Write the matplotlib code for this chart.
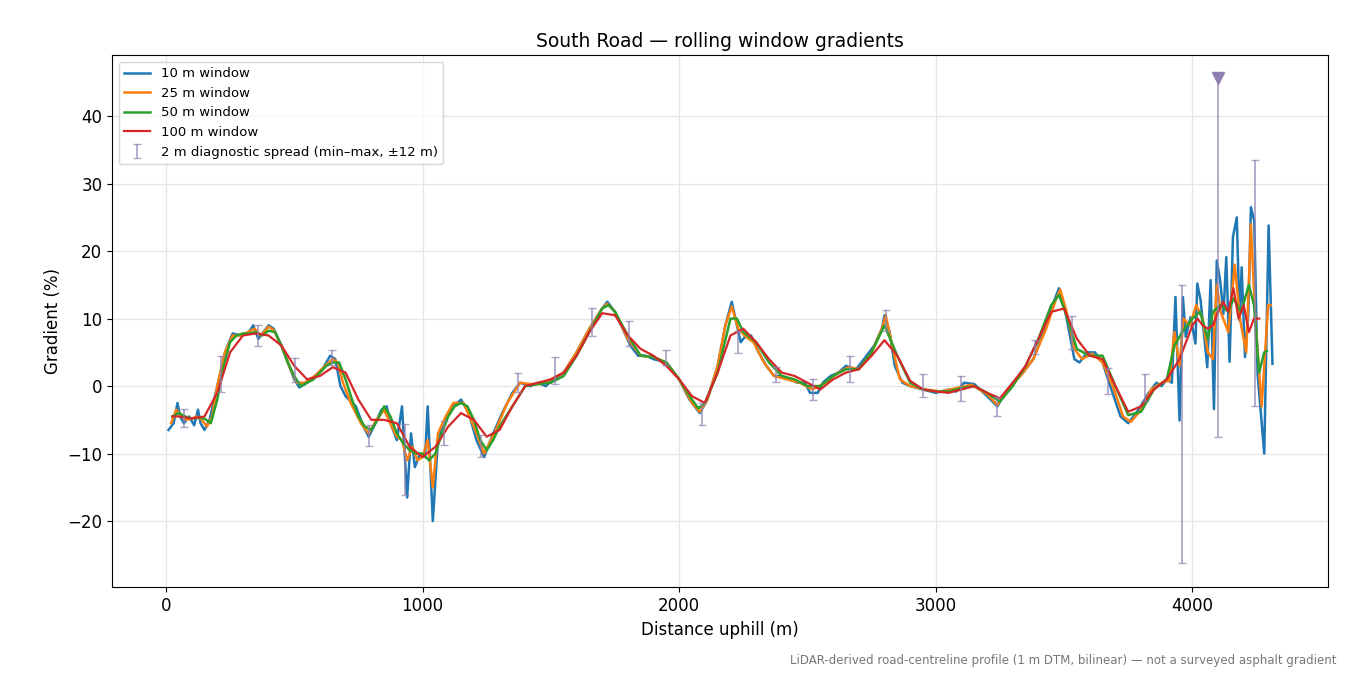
import matplotlib
matplotlib.use("Agg")
import matplotlib.pyplot as plt
import numpy as np

# 10 m window
d10 = [10,30,45,55,70,90,110,125,135,150,170,200,230,260,290,320,340,360,380,400,420,450,480,500,520,550,580,610,640,660,680,700,740,770,790,810,840,860,880,900,920,940,955,970,990,1010,1020,1040,1060,1090,1120,1150,1180,1210,1240,1270,1310,1350,1380,1420,1450,1480,1510,1550,1600,1650,1700,1720,1750,1780,1810,1840,1870,1900,1950,2000,2040,2080,2110,2150,2180,2205,2225,2240,2260,2280,2310,2340,2370,2400,2430,2460,2490,2510,2540,2560,2590,2620,2650,2690,2720,2760,2790,2800,2820,2840,2870,2900,2950,3000,3050,3080,3110,3150,3200,3240,3270,3300,3340,3380,3420,3460,3480,3500,3520,3540,3560,3590,3620,3650,3680,3720,3750,3790,3830,3860,3880,3900,3920,3934,3950,3963,3974,3993,4012,4019,4032,4058,4071,4084,4095,4108,4121,4132,4145,4158,4173,4184,4192,4205,4218,4228,4241,4254,4280,4297,4312]
v10 = [-6.5,-5.5,-2.5,-4.5,-5.5,-4.5,-5.8,-3.5,-5.5,-6.5,-5,0,5,7.8,7.5,7.8,9,7,8,9,8.5,6,3,1,-0.2,0.5,1.5,2.5,4.5,4,0,-1.5,-3,-6,-7.5,-6,-3.5,-3,-6,-8,-3,-16.5,-7,-12,-10,-10.5,-3,-20,-8,-5,-3,-2,-4,-8,-10.5,-7.5,-4,-1,0.5,0,0.5,0,1,2,5,8.5,11.5,12.5,11,8.5,6,4.5,4.5,4,3.5,1,-2,-4,-2,3,9,12.5,9,6.5,7.5,7.5,5,3,1.5,1.5,1,0.5,0.5,-1,-1,0.5,1.5,2,3,2.5,4,6,8.5,10.5,8,3,0.5,0,-0.5,-1,-0.5,-0.8,0.5,0.3,-1.5,-3,-1,0.5,2,4,8,12.5,14.5,12,8,4,3.5,5,5,3.5,0,-4.5,-5.5,-3.5,-1,0.5,0,1,0.5,13.2,-5.1,13.2,7.3,10.2,6.3,15.2,12.7,2.8,15.7,-3.4,18.6,15.7,10.7,19.1,3.6,22.1,25.0,9.7,17.6,4.3,10.7,26.5,24.5,1.8,-10,23.8,3.3]

# 25 m window
d25 = [20,40,60,80,100,120,140,160,180,200,230,260,290,320,345,370,400,420,450,480,510,540,580,620,650,670,690,720,760,790,820,850,880,900,920,940,960,980,1000,1020,1040,1060,1090,1120,1160,1200,1240,1280,1330,1380,1420,1460,1500,1550,1600,1650,1700,1720,1750,1800,1850,1900,1950,2000,2050,2080,2110,2150,2180,2205,2230,2260,2290,2330,2370,2420,2470,2520,2570,2620,2660,2700,2750,2790,2805,2830,2860,2900,2960,3020,3080,3140,3200,3240,3280,3330,3380,3430,3470,3485,3510,3540,3570,3610,3650,3690,3730,3760,3800,3840,3880,3910,3930,3950,3965,3990,4015,4040,4060,4080,4095,4110,4140,4165,4185,4210,4228,4245,4270,4295,4305]
v25 = [-5.5,-3.5,-4.5,-5,-4.8,-4.5,-5,-6,-4.5,0,5,7.5,7.5,8,8.5,7.5,8.8,8.3,6,3,0.5,0.5,1.5,3,4,3.5,0.5,-2.5,-5.5,-7,-5,-3.5,-6,-7.5,-8,-11,-9,-11,-10.5,-8,-15,-7,-4.5,-2.5,-2.5,-6,-10,-7,-2.5,0.5,0.3,0.3,1,2,5,8.5,11.5,12.2,11,7,4.5,4.3,3.5,1,-2.5,-3.8,-2,3,9,11.8,8.5,7.3,6.5,3.5,1.5,1,0.5,-0.5,0.5,2,2.8,2.5,5,8.5,10.5,6,1,0,-0.5,-0.8,-0.3,0.2,-1.2,-2.8,-0.5,1.5,4,8.5,13,14.3,11,5.5,4,4.8,3.5,0,-4.5,-5.3,-3.5,-0.5,0.5,0.8,8,3,10,9,12,10,5,4,15,11,8,18,10,5,24,10,-3,12,12]

# 50 m window
d50 = [25,50,75,100,125,150,175,200,225,250,275,300,325,350,375,400,425,450,475,500,525,550,575,600,625,650,675,700,725,750,775,800,825,850,875,900,925,950,975,1000,1025,1050,1075,1100,1125,1150,1175,1200,1225,1250,1275,1300,1350,1400,1450,1500,1550,1600,1650,1700,1725,1750,1800,1850,1900,1950,2000,2050,2075,2100,2150,2200,2225,2250,2300,2350,2400,2450,2500,2550,2600,2650,2700,2750,2800,2850,2900,2950,3000,3050,3100,3150,3200,3250,3300,3350,3400,3450,3480,3500,3550,3600,3650,3700,3750,3800,3850,3900,3930,3960,4000,4030,4060,4080,4110,4140,4160,4190,4220,4240,4260,4280,4290]
v50 = [-4.5,-4,-4.5,-4.8,-4.7,-4.8,-5.5,-2,3,6.5,7.5,7.8,7.8,8,7.5,8.2,8,6,3.5,1.5,0,0.5,1,2,3,3.5,3.5,1,-2,-4.5,-6,-6.5,-5,-3,-4.5,-7,-8.5,-9.5,-10,-10,-11,-10,-7,-4.5,-3,-2.5,-3,-5,-8,-9.5,-8,-6,-3,0,0.3,0.5,1.5,4.5,8,11.5,12,11,7.5,4.5,4.3,3.5,1,-2,-3.3,-2.5,2,10,10,8,6.5,3.5,1.5,1,0,0,1.5,2.5,2.5,5,9,4.5,0.5,-0.5,-0.8,-0.8,-0.3,0,-1,-2.3,0,3,7,12,13.5,11.5,5.5,4.5,4.5,0,-4.3,-3.8,-0.5,1,6,8,10,11,7,11,12,11,13,11,15,12,2,5,5.2]

# 100 m window
d100 = [25,50,100,150,200,250,300,350,400,450,500,550,600,650,700,750,800,850,900,950,1000,1050,1100,1150,1200,1250,1300,1350,1400,1450,1500,1550,1600,1650,1700,1750,1800,1850,1900,1950,2000,2050,2100,2150,2200,2250,2300,2350,2400,2450,2500,2550,2600,2650,2700,2750,2800,2850,2900,2950,3000,3050,3100,3150,3200,3250,3300,3350,3400,3450,3500,3550,3600,3650,3700,3750,3800,3850,3900,3950,3980,4000,4020,4040,4060,4080,4100,4120,4140,4160,4180,4200,4220,4240,4260]
v100 = [-4.5,-4.5,-4.8,-4.5,-1,5,7.5,7.8,7.5,6,3,1,1.5,2.8,2,-2,-5,-5,-5.5,-9,-10.5,-9,-6,-4,-5,-7.5,-6.5,-3,0,0.5,1,2,4.5,8,10.8,10.5,7.5,5.5,4.5,3,1,-1.5,-2.5,2,7.5,8.5,6.5,4,2,1.5,0.5,-0.5,1,2,2.5,4.5,6.8,4.5,0.8,-0.5,-0.8,-1,-0.5,0,-1,-1.8,0.5,3,7,11,11.5,7,4.5,4,0,-3.8,-3,-0.5,1,4,7,9,10,9,8.5,9,11,12.5,11,14.5,10,12,8,10,10]

# 2 m diagnostic spread
eb_x = [70,216,357,502,648,792,933,1082,1226,1370,1517,1661,1805,1949,2090,2231,2376,2521,2664,2807,2951,3097,3240,3385,3530,3673,3816,3960,4100,4245]
eb_lo = [-6.0,-0.8,5.9,0.6,3.2,-8.9,-16.1,-8.7,-10.5,-0.9,0.3,7.4,6.0,3.2,-5.7,4.9,0.6,-2.1,0.6,8.2,-1.6,-2.2,-4.4,4.7,5.5,-1.2,-2.2,-26.2,-7.5,-3.0]
eb_hi = [-3.4,4.4,9.1,4.2,5.3,-5.8,-5.6,-5.1,-7.3,2.0,4.3,11.5,9.6,5.4,-2.5,8.2,2.8,1.0,4.4,11.3,1.8,1.5,-1.6,6.9,10.4,2.7,1.8,15.0,46.0,33.5]
clip_x = [4100]
clip_y = [45.7]

fig, ax = plt.subplots(figsize=(13.5, 6.75), dpi=100)
ax.plot(d10, v10, color="#1f77b4", lw=1.8, label="10 m window")
ax.plot(d25, v25, color="#ff7f0e", lw=1.8, label="25 m window")
ax.plot(d50, v50, color="#2ca02c", lw=1.8, label="50 m window")
ax.plot(d100, v100, color="#d62728", lw=1.6, label="100 m window")
ex = np.array(eb_x); lo = np.array(eb_lo); hi = np.array(eb_hi)
mid = (lo + hi) / 2
ax.errorbar(ex, mid, yerr=[mid - lo, hi - mid], fmt="none", ecolor="#8e7fb0",
            alpha=0.7, elinewidth=1.3, capsize=3,
            label="2 m diagnostic spread (min–max, ±12 m)")
ax.plot(clip_x, clip_y, marker="v", color="#8e7fb0", ms=8, ls="none")
ax.set_xlim(-210, 4530)
ax.set_ylim(-29.8, 49)
ax.grid(True, color="#e6e6e6", lw=1)
ax.set_axisbelow(True)
ax.set_title("South Road — rolling window gradients", fontsize=13.5)
ax.set_xlabel("Distance uphill (m)", fontsize=12)
ax.set_ylabel("Gradient (%)", fontsize=12)
ax.tick_params(labelsize=12)
ax.legend(loc="upper left", fontsize=9.5)
fig.subplots_adjust(left=0.083, right=0.984, top=0.918, bottom=0.13)
fig.text(0.99, 0.012, "LiDAR-derived road-centreline profile (1 m DTM, bilinear) — not a surveyed asphalt gradient",
         ha="right", va="bottom", fontsize=8.5, color="#777777")
fig.savefig("out.png", dpi=100)
